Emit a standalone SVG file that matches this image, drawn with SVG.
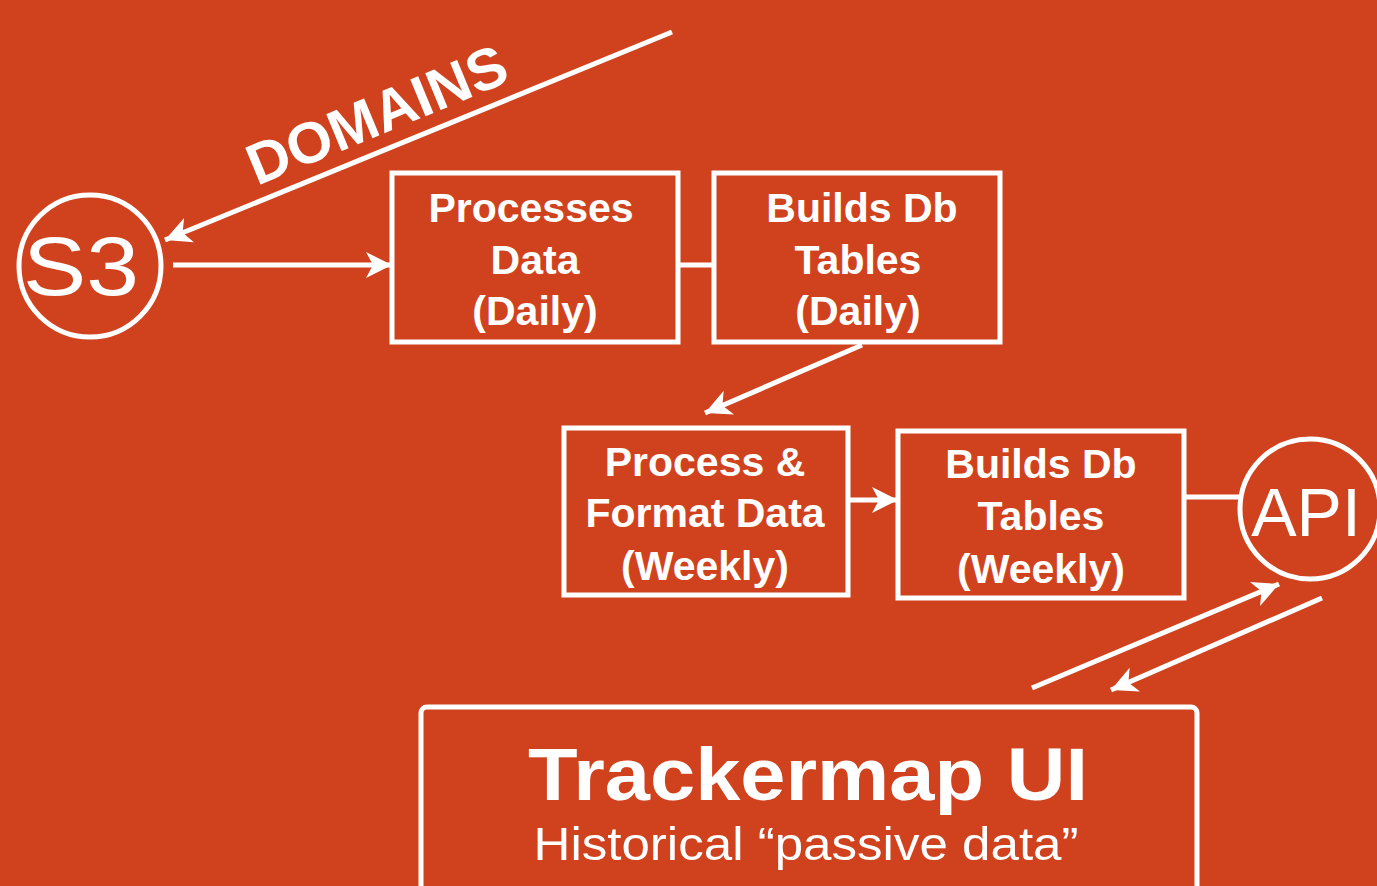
<svg xmlns="http://www.w3.org/2000/svg" width="1377" height="886" viewBox="0 0 1377 886">
  <style>
    .bg { fill: #D0421E; }
    .shape { fill: none; stroke: #FFFFFF; stroke-width: 5; }
    .link { fill: none; stroke: #FFFFFF; stroke-width: 5; stroke-linecap: butt; }
    .box-text { font-family: "Liberation Sans", Arial, sans-serif; font-weight: bold; font-size: 41px; fill: #FFFFFF; text-anchor: middle; }
    .circle-text { font-family: "Liberation Sans", Arial, sans-serif; font-weight: normal; fill: #FFFFFF; text-anchor: middle; }
    .title { font-family: "Liberation Sans", Arial, sans-serif; font-weight: bold; font-size: 75px; fill: #FFFFFF; text-anchor: middle; }
    .subtitle { font-family: "Liberation Sans", Arial, sans-serif; font-weight: normal; font-size: 46px; fill: #FFFFFF; text-anchor: middle; }
    .label { font-family: "Liberation Sans", Arial, sans-serif; font-weight: bold; font-size: 58px; fill: #FFFFFF; }
  </style>
  <defs>
    <!-- filled notched arrowhead -->
    <marker id="head" viewBox="0 0 28 28" refX="26" refY="14" markerWidth="28" markerHeight="28" markerUnits="userSpaceOnUse" orient="auto">
      <path d="M0,1 L26,14 L0,27 L7,14 Z" fill="#FFFFFF"/>
    </marker>
  </defs>

  <rect class="bg" x="0" y="0" width="1377" height="886"/>

  <g id="connectors">
    <!-- domains feed into S3 -->
    <line class="link" x1="672" y1="32" x2="165" y2="240" marker-end="url(#head)"/>
    <!-- S3 to daily processing -->
    <line class="link" x1="173" y1="265" x2="392" y2="265" marker-end="url(#head)"/>
    <!-- daily processing to daily tables -->
    <line class="link" x1="678" y1="265" x2="714" y2="265"/>
    <!-- daily tables to weekly processing -->
    <line class="link" x1="862" y1="345" x2="705" y2="413" marker-end="url(#head)"/>
    <!-- weekly processing to weekly tables -->
    <line class="link" x1="848" y1="500" x2="898" y2="500" marker-end="url(#head)"/>
    <!-- weekly tables to API -->
    <line class="link" x1="1184" y1="497" x2="1239" y2="497"/>
    <!-- UI requests to API -->
    <line class="link" x1="1032" y1="688" x2="1279" y2="584" marker-end="url(#head)"/>
    <!-- API responses to UI -->
    <line class="link" x1="1322" y1="598" x2="1111" y2="690" marker-end="url(#head)"/>
    <text class="label" transform="translate(257,186) rotate(-22.5)" textLength="276" lengthAdjust="spacingAndGlyphs">DOMAINS</text>
  </g>

  <g id="s3">
    <circle class="shape" cx="90" cy="266" r="71"/>
    <text class="circle-text" x="81" y="295" font-size="84" textLength="116" lengthAdjust="spacingAndGlyphs">S3</text>
  </g>

  <g id="process-daily">
    <rect class="shape" x="392" y="173" width="286" height="169"/>
    <text class="box-text" x="531" y="222">Processes</text>
    <text class="box-text" x="535" y="274">Data</text>
    <text class="box-text" x="535" y="325">(Daily)</text>
  </g>

  <g id="tables-daily">
    <rect class="shape" x="714" y="173" width="286" height="169"/>
    <text class="box-text" x="862" y="222">Builds Db</text>
    <text class="box-text" x="858" y="274">Tables</text>
    <text class="box-text" x="858" y="325">(Daily)</text>
  </g>

  <g id="process-weekly">
    <rect class="shape" x="564" y="428" width="284" height="167"/>
    <text class="box-text" x="705" y="476">Process &amp;</text>
    <text class="box-text" x="705" y="527">Format Data</text>
    <text class="box-text" x="705" y="580">(Weekly)</text>
  </g>

  <g id="tables-weekly">
    <rect class="shape" x="898" y="431" width="286" height="167"/>
    <text class="box-text" x="1041" y="478">Builds Db</text>
    <text class="box-text" x="1041" y="530">Tables</text>
    <text class="box-text" x="1041" y="583">(Weekly)</text>
  </g>

  <g id="api">
    <circle class="shape" cx="1310" cy="509" r="70"/>
    <text class="circle-text" x="1306" y="536" font-size="68">API</text>
  </g>

  <g id="trackermap-ui">
    <rect class="shape" x="421" y="707" width="776" height="190" rx="6"/>
    <text class="title" x="808" y="800" textLength="560" lengthAdjust="spacingAndGlyphs">Trackermap UI</text>
    <text class="subtitle" x="806" y="860" textLength="545" lengthAdjust="spacingAndGlyphs">Historical “passive data”</text>
  </g>
</svg>
